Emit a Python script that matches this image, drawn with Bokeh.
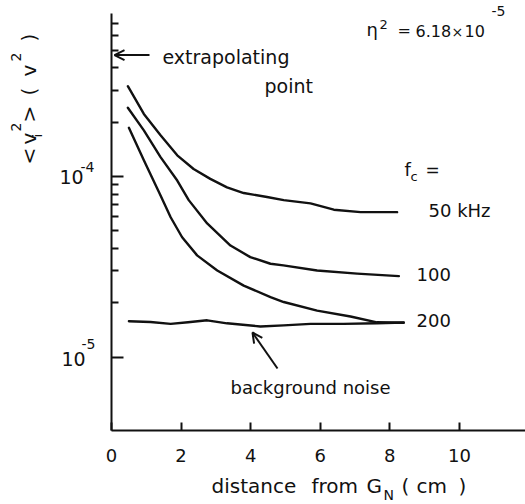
import math

from bokeh.embed import file_html
from bokeh.models import (Arrow, CustomJSTickFormatter, FixedTicker, Label,
                          OpenHead, Range1d)
from bokeh.plotting import figure
from bokeh.resources import INLINE

# ---- data: mean-square noise voltage <v_i^2> (V^2) vs distance from G_N (cm)
dist_50 = [0.47, 0.93, 1.41, 1.89, 2.36, 2.84, 3.32, 3.80, 4.47, 4.95, 5.72, 6.39, 7.16, 8.21]
v2_50 = [3.16e-4, 2.22e-4, 1.69e-4, 1.31e-4, 1.10e-4, 9.7e-5, 8.7e-5, 8.1e-5, 7.7e-5,
         7.4e-5, 7.1e-5, 6.55e-5, 6.35e-5, 6.35e-5]

dist_100 = [0.47, 0.93, 1.41, 1.89, 2.22, 2.75, 3.42, 3.99, 4.57, 4.94, 5.91, 7.06, 8.26]
v2_100 = [2.40e-4, 1.80e-4, 1.28e-4, 9.5e-5, 7.4e-5, 5.5e-5, 4.15e-5, 3.58e-5, 3.29e-5,
          3.22e-5, 3.02e-5, 2.90e-5, 2.81e-5]

dist_200 = [0.50, 0.93, 1.41, 1.70, 2.03, 2.46, 3.04, 3.80, 4.57, 4.95, 5.91, 6.87, 7.63, 8.40]
v2_200 = [1.86e-4, 1.23e-4, 7.85e-5, 5.95e-5, 4.61e-5, 3.66e-5, 3.02e-5, 2.49e-5, 2.15e-5,
          2.02e-5, 1.81e-5, 1.68e-5, 1.56e-5, 1.55e-5]

dist_bg = [0.50, 1.12, 1.70, 2.20, 2.75, 3.32, 4.28, 4.95, 5.72, 6.67, 7.63, 8.40]
v2_bg = [1.58e-5, 1.565e-5, 1.53e-5, 1.56e-5, 1.60e-5, 1.54e-5, 1.48e-5, 1.50e-5, 1.53e-5,
         1.53e-5, 1.54e-5, 1.555e-5]

series = [(dist_50, v2_50), (dist_100, v2_100), (dist_200, v2_200), (dist_bg, v2_bg)]

fc_labels = ["50 kHz", "100", "200"]
x_ticks = [0, 2, 4, 6, 8, 10]
y_major = [1e-5, 1e-4]
y_minor = [2e-5, 3e-5, 4e-5, 5e-5, 6e-5, 7e-5, 8e-5, 9e-5,
           2e-4, 3e-4, 4e-4, 5e-4, 6e-4, 7e-4]
extrapolated_value = 4.7e-4

# ---- layout: the frame fills the canvas, the axes sit inside it
W, H = 525, 504
AX_LEFT, AX_TOP, AX_BOTTOM, AX_RIGHT = 111, 13, 430, 525
X_AXIS = (0.0, 11.9)          # data span of the drawn x axis
Y_AXIS = (3.93e-6, 7.98e-4)   # data span of the drawn y axis
INK = "#111111"
FONT = "DejaVu Sans"
BASE_SHIFT = 0.45             # baseline correction for labels, in em

_xs = (X_AXIS[1] - X_AXIS[0]) / (AX_RIGHT - AX_LEFT)
_ly0, _ly1 = math.log10(Y_AXIS[0]), math.log10(Y_AXIS[1])
_ys = (_ly1 - _ly0) / (AX_BOTTOM - AX_TOP)


def dx(px):
    """canvas pixel column -> data x"""
    return X_AXIS[0] + (px - AX_LEFT) * _xs


def dy(py):
    """canvas pixel row -> data y (log axis)"""
    return 10 ** (_ly0 + (AX_BOTTOM - py) * _ys)


p = figure(width=W, height=H, x_range=Range1d(dx(0), dx(W)), y_range=Range1d(dy(H), dy(0)),
           y_axis_type="log", output_backend="svg", toolbar_location=None, min_border=0)
p.min_border_left = p.min_border_right = p.min_border_top = p.min_border_bottom = 0
p.outline_line_color = None
p.xgrid.visible = False
p.ygrid.visible = False
p.background_fill_color = "white"
p.border_fill_color = "white"

for xs, ys in series:
    p.line(xs, ys, line_color=INK, line_width=2.4, line_join="round", line_cap="round")

# x axis
xa = p.xaxis[0]
xa.fixed_location = Y_AXIS[0]
xa.bounds = X_AXIS
xa.ticker = FixedTicker(ticks=x_ticks, minor_ticks=[])
xa.axis_line_width = 2
xa.axis_line_color = INK
xa.major_tick_in = 8
xa.major_tick_out = 0
xa.major_tick_line_width = 2
xa.major_tick_line_color = INK
xa.minor_tick_in = 0
xa.minor_tick_out = 0
xa.major_label_text_font = FONT
xa.major_label_text_font_size = "18px"
xa.major_label_text_color = INK
xa.major_label_standoff = 18

# y axis (labels are drawn as separate text pieces below)
ya = p.yaxis[0]
ya.fixed_location = X_AXIS[0]
ya.bounds = Y_AXIS
ya.ticker = FixedTicker(ticks=y_major, minor_ticks=y_minor)
ya.formatter = CustomJSTickFormatter(code="return ''")
ya.axis_line_width = 2
ya.axis_line_color = INK
ya.major_tick_in = 12
ya.major_tick_out = 0
ya.major_tick_line_width = 2
ya.major_tick_line_color = INK
ya.minor_tick_in = 7
ya.minor_tick_out = 0
ya.minor_tick_line_width = 2
ya.minor_tick_line_color = INK


def txt(px, py, s, size, rotated=False):
    """text with its baseline start at canvas pixel (px, py)"""
    if rotated:
        px, angle = px - BASE_SHIFT * size, math.pi / 2
    else:
        py, angle = py - BASE_SHIFT * size, 0.0
    p.add_layout(Label(x=dx(px), y=dy(py), text=s, text_font=FONT,
                       text_font_size=f"{size}px", text_color=INK,
                       text_align="left", text_baseline="alphabetic", angle=angle))


# y tick labels 10^-4, 10^-5
txt(59, 185, "10", 19)
txt(80, 173, "-4", 14)
txt(61, 367, "10", 19)
txt(81, 350, "-5", 14)

# y axis title  <v_i^2> (v^2), reading upward
txt(37, 164, "<", 20, True)
txt(37, 144, "v", 20, True)
txt(43, 137, "i", 13, True)
txt(22, 131, "2", 14, True)
txt(37, 122, ">", 20, True)
txt(37, 95, "(", 20, True)
txt(37, 76, "v", 20, True)
txt(22, 61, "2", 14, True)
txt(37, 41, ")", 20, True)

# x axis title  distance from G_N (cm)
txt(211, 494, "distance", 20)
txt(311, 494, "from", 20)
txt(366, 494, "G", 20)
txt(383, 501, "N", 14)
txt(401, 494, "(", 20)
txt(416, 494, "cm", 20)
txt(458, 494, ")", 20)

# eta^2 = 6.18 x 10^-5
txt(366, 37, "η", 18)
txt(379, 30, "2", 13)
txt(397, 37, "=", 16)
txt(415, 38, "6.18", 16)
txt(451, 38, "×", 14)
txt(464, 38, "10", 16)
txt(491, 17, "-5", 14)

# cut-off frequency labels
txt(404, 177, "f", 18)
txt(410, 182, "c", 13)
txt(425, 177, "=", 17)
for s, yy in zip(fc_labels, [218, 282, 328]):
    txt(428 if s.endswith("kHz") else 416, yy, s, 18)

# annotations
txt(162, 65, "extrapolating", 19)
txt(264, 94, "point", 19)
txt(230, 395, "background noise", 18)

p.add_layout(Arrow(end=OpenHead(size=10, line_width=2, line_color=INK),
                   x_start=dx(149), y_start=extrapolated_value,
                   x_end=dx(114), y_end=extrapolated_value,
                   line_width=2, line_color=INK))
p.add_layout(Arrow(end=OpenHead(size=10, line_width=2, line_color=INK),
                   x_start=dx(277), y_start=dy(368),
                   x_end=dx(252), y_end=dy(332),
                   line_width=2, line_color=INK))

open("out.html", "w").write(file_html(p, INLINE))
